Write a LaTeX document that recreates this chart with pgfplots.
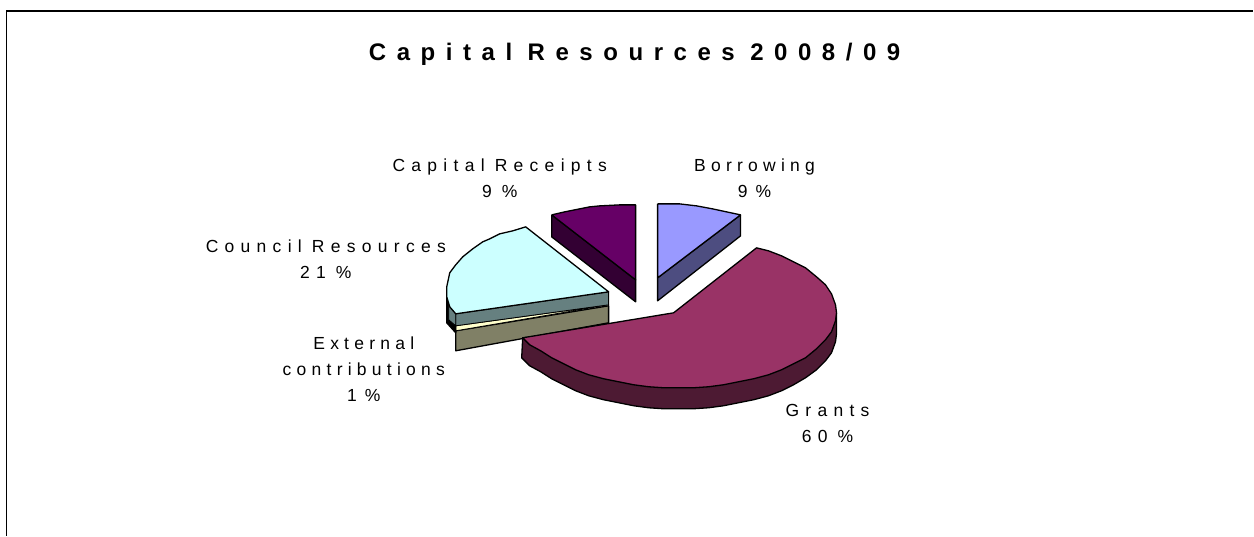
\documentclass[border=0pt]{standalone}
\usepackage{pgfplots}
\pgfplotsset{compat=1.18}
\usepackage{fontspec}
\setmainfont{Liberation Sans}
\newfontfamily\lblfont[LetterSpace=36,WordSpace=0.9]{Liberation Sans}
\newfontfamily\lblnarrow[LetterSpace=30,WordSpace=0.8]{Liberation Sans}
\newfontfamily\ttlfont[LetterSpace=44,WordSpace=0.9]{Liberation Sans Bold}
\pgfplotsset{slice/.style={draw=black,line width=1.3pt,line join=round,mark=none}}
\definecolor{borrow}{RGB}{153,153,255}
\definecolor{borrowside}{RGB}{77,77,128}
\definecolor{grants}{RGB}{153,51,102}
\definecolor{grantsside}{RGB}{77,26,51}
\definecolor{council}{RGB}{204,255,255}
\definecolor{councilside}{RGB}{102,128,128}
\definecolor{receipts}{RGB}{102,0,102}
\definecolor{receiptsside}{RGB}{51,0,51}
\definecolor{external}{RGB}{255,255,204}
\definecolor{externalside}{RGB}{128,128,102}
\begin{document}
\begin{tikzpicture}
\begin{axis}[
    scale only axis,
    width=1254pt,
    height=536pt,
    xmin=0, xmax=1254,
    ymin=0, ymax=536,
    y dir=reverse,
    hide axis,
    clip=false,
]
% chart frame
\addplot[draw=black,line width=1.5pt,mark=none] coordinates {(6.5,536) (6.5,11) (1254,11)};
% capital receipts
\addplot[slice,fill=receiptsside] coordinates {(552,215) (636,280) (636,302) (552,237) (552,215)};
\addplot[slice,fill=receipts] coordinates {(552,215) (565,212) (580,209) (590,207) (600,206) (620,205) (636,205) (636,280) (552,215)};
% borrowing
\addplot[slice,fill=borrowside] coordinates {(741,215) (741,236) (658,301) (658,278) (741,215)};
\addplot[slice,fill=borrow] coordinates {(658,204) (680,204) (697,206) (713,209) (727,212) (741,215) (658,278) (658,204)};
% external contributions
\addplot[slice,fill=externalside] coordinates {(456,331) (609,306) (609,323) (456,351) (456,331)};
\addplot[slice,line width=0.8pt,fill=external] coordinates {(456,326) (609,305) (456,331) (456,326)};
% council resources
\addplot[slice,fill=black] coordinates {(447,297) (447,323) (456,333) (456,314) (447,297)};
\addplot[slice,line width=0.8pt,fill=councilside] coordinates {(456,314) (609,292) (609,305) (456,326) (456,314)};
\addplot[slice,line width=0.8pt,fill=councilside] coordinates {(449,305) (456,314) (456,326) (449,320) (449,305)};
\addplot[slice,fill=council] coordinates {(526,227) (513,231) (500,234) (490,239) (483,242) (473,249) (463,257) (456,265) (450,273) (447,287) (447,297) (450,307) (456,314) (609,292) (526,227)};
% grants
\addplot[slice,fill=grantsside] coordinates {(837,313) (837,334) (836,342) (832,353) (826,361) (817,370) (806,378) (794,385) (782,391) (769,396) (754,400) (739,403) (724,406) (709,408) (694,409) (679,409) (664,409) (649,408) (634,406) (619,403) (604,400) (589,396) (576,391) (564,385) (552,379) (541,372) (530,366) (522,358) (523,338) (837,313)};
\addplot[slice,fill=grants] coordinates {(757,248) (769,251) (782,256) (794,262) (806,268) (817,277) (826,285) (832,294) (836,305) (837,313) (836,321) (832,332) (826,340) (817,349) (806,358) (794,364) (782,370) (769,375) (754,379) (739,382) (724,385) (709,387) (694,388) (679,388) (664,388) (649,387) (634,385) (619,382) (604,379) (589,375) (576,370) (564,364) (552,358) (541,351) (530,345) (523,338) (674,313) (757,248)};
% texts
\node[font=\ttlfont\fontsize{24}{28}\selectfont] at (axis cs:635,54) {Capital Resources 2008/09};
\node[font=\lblfont\fontsize{17.5}{26}\selectfont,align=center] at (axis cs:500,178) {Capital Receipts\\9 \%};
\node[font=\lblnarrow\fontsize{17.5}{26}\selectfont,align=center] at (axis cs:755,178) {Borrowing\\9 \%};
\node[font=\lblfont\fontsize{17.5}{26}\selectfont,align=center] at (axis cs:326,259) {Council Resources\\21 \%};
\node[font=\lblnarrow\fontsize{17.5}{26}\selectfont,align=center] at (axis cs:364,369) {External\\contributions\\1 \%};
\node[font=\lblfont\fontsize{17.5}{26}\selectfont,align=center] at (axis cs:828,424) {Grants\\60 \%};
\path (axis cs:0,0) rectangle (axis cs:1254,536);
\end{axis}
\end{tikzpicture}
\end{document}
